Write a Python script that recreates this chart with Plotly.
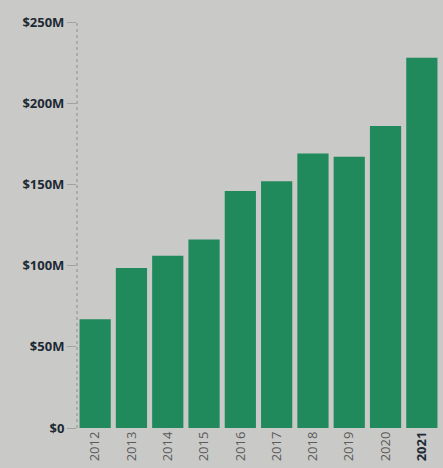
import plotly.graph_objects as go

years = ["2012", "2013", "2014", "2015", "2016", "2017", "2018", "2019", "2020", "2021"]
values = [67, 98.5, 106, 116, 146, 152, 169, 167, 186, 228]  # $M
y_ticks = [0, 50, 100, 150, 200, 250]
y_labels = ["$0", "$50M", "$100M", "$150M", "$200M", "$250M"]

bg = "#c9c9c7"
green = "#218a5c"
dark = "#1d2a35"

x_text = [f"<span style='color:{dark}'><b>{y}</b></span>" if y == "2021" else y for y in years]
y_text = [f"<b>{t}</b>" for t in y_labels]

fig = go.Figure(go.Bar(x=years, y=values, marker=dict(color=green, line=dict(width=0))))

fig.update_layout(
    width=443, height=468,
    margin=dict(l=77, r=3, t=22, b=40),
    paper_bgcolor=bg, plot_bgcolor=bg,
    bargap=0.14,
    showlegend=False,
    font=dict(family="Open Sans", color=dark),
    shapes=[dict(type="line", xref="paper", yref="paper", x0=0, x1=0, y0=0, y1=1,
                 line=dict(color="#8e8e8c", width=1, dash="dot"))],
)
fig.update_xaxes(
    type="category", tickvals=years, ticktext=x_text, tickangle=-90,
    tickfont=dict(size=13, color="#5a5a5a", family="Open Sans"),
    showgrid=False, showline=False, ticks="", range=[-0.5, 9.5],
)
fig.update_yaxes(
    range=[0, 250], tickvals=y_ticks, ticktext=y_text,
    tickfont=dict(size=13, color=dark, family="Open Sans"),
    showgrid=False, zeroline=False, showline=False,
    ticks="outside", ticklen=9, tickcolor="#a2a2a0", tickwidth=1,
)

fig.write_html("out.html")
